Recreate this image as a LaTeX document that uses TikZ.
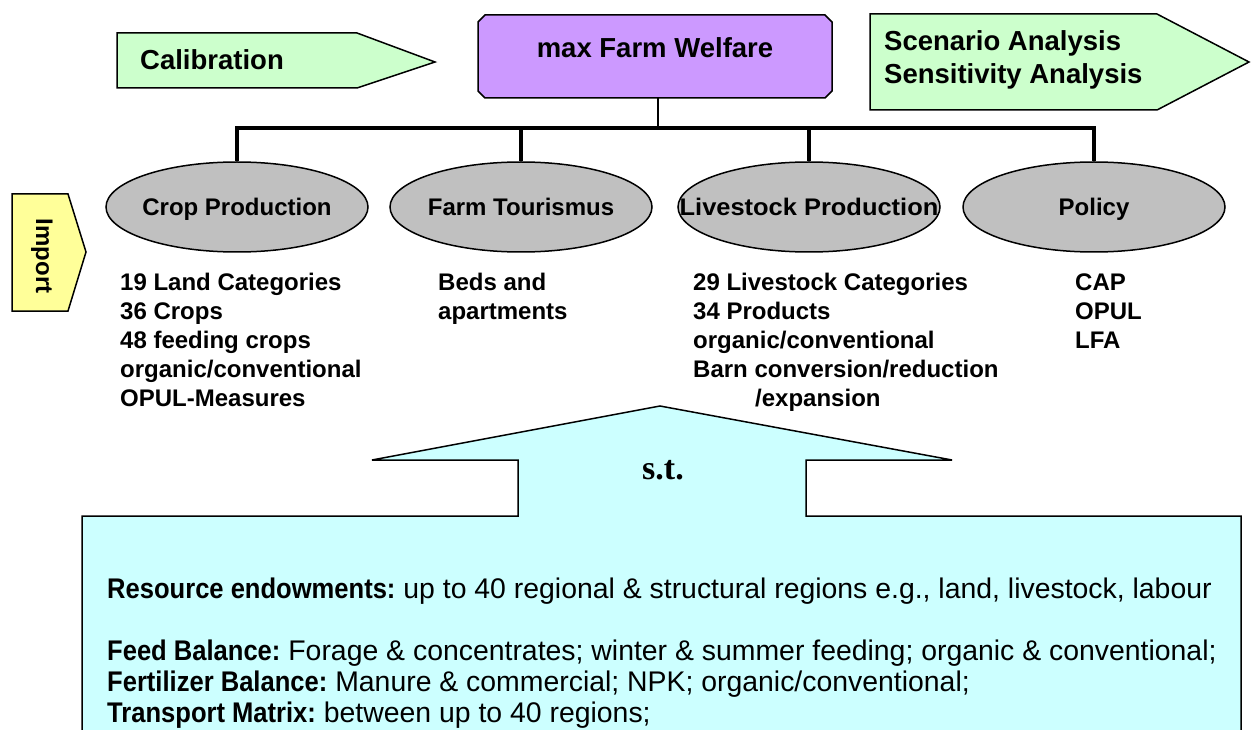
\documentclass[tikz,border=0pt]{standalone}
\usepackage{fontspec}
\setmainfont{Liberation Sans}
\newfontfamily\stserif{Liberation Serif}
\usetikzlibrary{shapes.geometric}
\definecolor{lgreen}{HTML}{CCFFCC}
\definecolor{lpurple}{HTML}{CC99FF}
\definecolor{lgray}{HTML}{C0C0C0}
\definecolor{lyellow}{HTML}{FFFF99}
\definecolor{lcyan}{HTML}{CCFFFF}
\newcommand{\bhead}[1]{\scalebox{0.9}[1]{\textbf{#1}}}
\newcommand{\ovaltext}[1]{\makebox[0pt][c]{\raisebox{0pt}[17pt][0pt]{#1}}}
\begin{document}
\begin{tikzpicture}[x=1pt,y=-1pt,line join=miter,
  outline/.style={draw=black,line width=1.5pt},
  oval/.style={ellipse,outline,fill=lgray,minimum width=262pt,minimum height=90pt,inner sep=0pt,
    font=\fontsize{24}{28}\selectfont\bfseries},
  listtxt/.style={anchor=north west,inner sep=0pt,align=left,font=\fontsize{24}{29}\selectfont\bfseries},
  headtxt/.style={inner sep=0pt,font=\fontsize{27.5}{33}\selectfont\bfseries},
  barline/.style={line width=4pt},
  bodytxt/.style={anchor=north west,inner sep=0pt,align=left,font=\fontsize{28.4}{31}\selectfont}
]
\useasboundingbox (0,0) rectangle (1251,730);
\clip (0,0) rectangle (1251,730);

% Calibration arrow
\draw[outline,fill=lgreen] (117,33) -- (357,33) -- (435,62) -- (357,88) -- (117,88) -- cycle;
\node[headtxt,anchor=west] (calib) at (140,60) {Calibration};

% Scenario arrow
\draw[outline,fill=lgreen] (870,14) -- (1157,14) -- (1249,62) -- (1157,110) -- (870,110) -- cycle;
\node[headtxt,anchor=north west,align=left] (scen) at (884,30.2) {Scenario Analysis\\Sensitivity Analysis};

% max Farm Welfare box (chamfered)
\draw[outline,fill=lpurple] (485,15) -- (825,15) -- (832,22) -- (832,91) -- (825,98) -- (485,98) -- (478,91) -- (478,22) -- cycle;
\node[headtxt] (maxfw) at (655,48) {max Farm Welfare};
\coordinate (maxbot) at (658,98);

% Import
\draw[outline,fill=lyellow] (12,194) -- (68,194) -- (86,252) -- (68,311) -- (12,311) -- cycle;
\node[inner sep=0pt,rotate=-90,font=\fontsize{24}{28}\selectfont\bfseries] (import) at (42,256) {Import};

% tree
\coordinate (barL) at (237,128);
\node[oval] (crop) at (237,207) {\ovaltext{Crop Production}};
\node[oval] (tour) at (521,207) {\ovaltext{Farm Tourismus}};
\node[oval] (live) at (809,207) {\ovaltext{\scalebox{1.06}[1]{Livestock Production}}};
\node[oval] (pol)  at (1094,207) {\ovaltext{Policy}};
\draw[line width=1.5pt] (maxbot) -- (maxbot |- barL);
\draw[barline] (crop.north) |- (pol.north |- barL) -- (pol.north);
\draw[barline] (tour.north) -- (tour.north |- barL);
\draw[barline] (live.north) -- (live.north |- barL);

% lists
\node[listtxt] (croplist) at (120,273.4) {19 Land Categories\\36 Crops\\48 feeding crops\\organic/conventional\\OPUL-Measures};
\node[listtxt] (tourlist) at (438,273.4) {Beds and\\apartments};
\node[listtxt] (livelist) at (693,273.4) {29 Livestock Categories\\34 Products\\organic/conventional\\Barn conversion/reduction\\\hspace*{62pt}/expansion};
\node[listtxt] (pollist) at (1075,273.4) {CAP\\OPUL\\LFA};

% s.t. arrow + box
\draw[outline,fill=lcyan] (82,745) -- (82,516) -- (518,516) -- (518,460) -- (372,460) -- (660,406)
  -- (952,460) -- (806,460) -- (806,516) -- (1241,516) -- (1241,745);
\node[inner sep=0pt,font=\stserif\fontsize{34}{38}\selectfont\bfseries] (st) at (663,470) {s.t.};

\node[bodytxt] (body) at (107,578) {\bhead{Resource endowments:} up to 40 regional \& structural regions e.g., land, livestock, labour\\[31pt]
\bhead{Feed Balance:} Forage \& concentrates; winter \& summer feeding; organic \& conventional;\\
\bhead{Fertilizer Balance:} Manure \& commercial; NPK; organic/conventional;\\
\bhead{Transport Matrix:} between up to 40 regions;};
\end{tikzpicture}
\end{document}
